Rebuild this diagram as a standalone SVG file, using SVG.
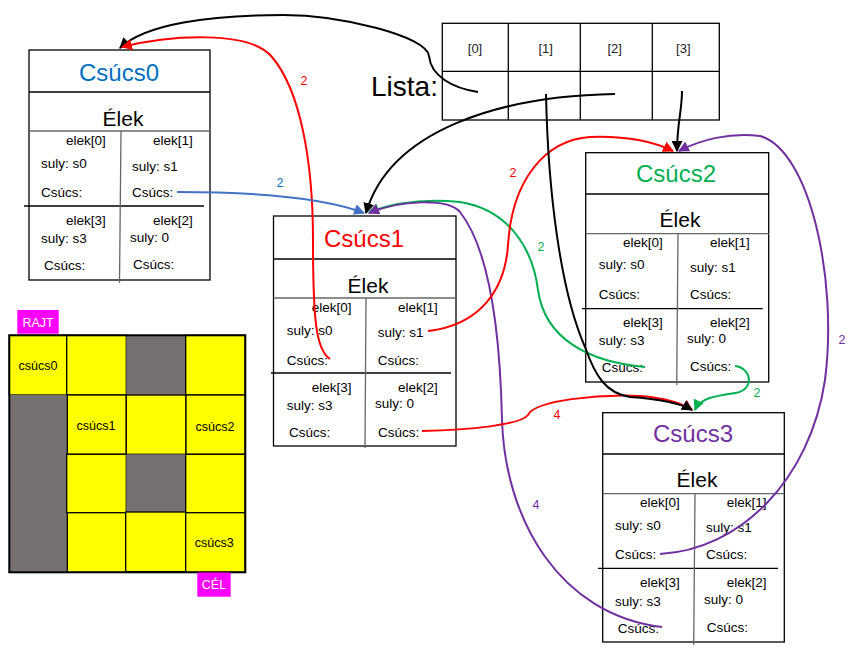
<svg xmlns="http://www.w3.org/2000/svg" width="855" height="653" viewBox="0 0 855 653">
<style>
text{font-family:"Liberation Sans",Arial,sans-serif;}
.box{fill:#fff;stroke:#000;stroke-width:1.3;}
.ln{stroke:#000;stroke-width:1.3;fill:none;}
.vl{stroke:#666;stroke-width:1.3;fill:none;}
.title{font-size:24px;text-anchor:middle;}
.elek{font-size:21px;text-anchor:middle;fill:#000;}
.t{font-size:13.5px;fill:#000;}
.hd{font-size:13px;fill:#222;text-anchor:middle;}
.c{fill:none;stroke-width:2;}
.lbl{font-size:12.5px;text-anchor:middle;}
.yc{fill:#FFFF00;stroke:#000;stroke-width:1.3;}
.gc{fill:#767171;}
.gt{font-size:12.5px;text-anchor:middle;fill:#000;}
.tag{fill:#FF00FF;}
.tagt{font-size:12.5px;fill:#fff;text-anchor:middle;}
</style>
<defs>
<marker id="ak" viewBox="0 0 10 10" refX="9" refY="5" markerWidth="11" markerHeight="11" markerUnits="userSpaceOnUse" orient="auto"><path d="M0,0 L10,5 L0,10 Z" fill="#000"/></marker>
<marker id="ar" viewBox="0 0 10 10" refX="9" refY="5" markerWidth="11" markerHeight="11" markerUnits="userSpaceOnUse" orient="auto"><path d="M0,0 L10,5 L0,10 Z" fill="#FF0000"/></marker>
<marker id="ab" viewBox="0 0 10 10" refX="9" refY="5" markerWidth="11" markerHeight="11" markerUnits="userSpaceOnUse" orient="auto"><path d="M0,0 L10,5 L0,10 Z" fill="#4472C4"/></marker>
<marker id="ag" viewBox="0 0 10 10" refX="9" refY="5" markerWidth="11" markerHeight="11" markerUnits="userSpaceOnUse" orient="auto"><path d="M0,0 L10,5 L0,10 Z" fill="#00B050"/></marker>
<marker id="ap" viewBox="0 0 10 10" refX="9" refY="5" markerWidth="11" markerHeight="11" markerUnits="userSpaceOnUse" orient="auto"><path d="M0,0 L10,5 L0,10 Z" fill="#7030A0"/></marker>
</defs>
<rect width="855" height="653" fill="#fff"/>

<g id="grid">
<rect class="yc" x="9.3" y="335.3" width="57.4" height="59.7"/>
<rect class="yc" x="66.7" y="335.3" width="59.6" height="59.7"/>
<rect class="gc" x="126.3" y="335.3" width="59.4" height="59.7"/>
<rect class="yc" x="185.7" y="335.3" width="59.6" height="59.7"/>
<rect class="gc" x="9.3" y="395" width="58" height="177.3"/>
<rect class="yc" x="67.3" y="395" width="59" height="59.3"/>
<rect class="yc" x="126.3" y="395" width="59.7" height="59.3"/>
<rect class="yc" x="186" y="395" width="59.3" height="59.3"/>
<rect class="yc" x="66.7" y="454.3" width="59.6" height="58.4"/>
<rect class="gc" x="126.3" y="454.3" width="59.4" height="58.4"/>
<rect class="yc" x="185.7" y="454.3" width="59.6" height="58.4"/>
<rect class="yc" x="67.3" y="512.7" width="58.4" height="59.6"/>
<rect class="yc" x="125.7" y="512" width="60" height="59.6"/>
<rect class="yc" x="185.7" y="512.7" width="59.6" height="59.6"/>
<rect x="9.3" y="335.3" width="236" height="237" fill="none" stroke="#000" stroke-width="2"/>
<text class="gt" x="38" y="370">csúcs0</text>
<text class="gt" x="96" y="429.5">csúcs1</text>
<text class="gt" x="215" y="430.5">csúcs2</text>
<text class="gt" x="214.3" y="547">csúcs3</text>
<rect class="tag" x="17.3" y="310" width="41.4" height="23.7"/>
<text class="tagt" x="38" y="326.5">RAJT</text>
<rect class="tag" x="197.3" y="572.5" width="33.4" height="24.2"/>
<text class="tagt" x="214" y="589">CÉL</text>
</g>

<g id="lista">
<rect class="box" x="442.3" y="23.3" width="277" height="96.7"/>
<line class="ln" x1="442.3" y1="71.3" x2="719.3" y2="71.3"/>
<line class="ln" x1="508.3" y1="23.3" x2="508.3" y2="120"/>
<line class="ln" x1="580.3" y1="23.3" x2="580.3" y2="120"/>
<line class="ln" x1="652.3" y1="23.3" x2="652.3" y2="120"/>
<text class="hd" x="475" y="52.5">[0]</text>
<text class="hd" x="545.7" y="52.5">[1]</text>
<text class="hd" x="614.7" y="52.5">[2]</text>
<text class="hd" x="683.3" y="52.5">[3]</text>
<text x="371" y="96" font-size="28" fill="#000">Lista:</text>
</g>

<g id="csucs0">
<rect class="box" x="29" y="50" width="181" height="230"/>
<line class="ln" x1="29" y1="92" x2="210" y2="92"/>
<line class="vl" x1="29" y1="131" x2="210" y2="131"/>
<line class="ln" x1="24" y1="206" x2="204" y2="206"/>
<line class="vl" x1="121" y1="131" x2="119.5" y2="283"/>
<text class="title" x="119" y="81" fill="#0070C0">Csúcs0</text>
<text class="elek" x="123" y="126">Élek</text>
<text class="t" x="66" y="145">elek[0]</text>
<text class="t" x="153" y="145">elek[1]</text>
<text class="t" x="41" y="168">suly: s0</text>
<text class="t" x="132" y="171">suly: s1</text>
<text class="t" x="41" y="197">Csúcs:</text>
<text class="t" x="132" y="197">Csúcs:</text>
<text class="t" x="66" y="225">elek[3]</text>
<text class="t" x="153" y="225">elek[2]</text>
<text class="t" x="41" y="243">suly: s3</text>
<text class="t" x="130" y="242">suly: 0</text>
<text class="t" x="44" y="270">Csúcs:</text>
<text class="t" x="133" y="269">Csúcs:</text>
</g>

<g id="csucs1">
<rect class="box" x="273.5" y="216" width="182.5" height="230"/>
<line class="ln" x1="273.5" y1="259" x2="456" y2="259"/>
<line class="vl" x1="273.5" y1="298" x2="456" y2="298"/>
<line class="ln" x1="271" y1="373" x2="451" y2="373"/>
<line class="vl" x1="366" y1="298" x2="365" y2="448"/>
<text class="title" x="364" y="247" fill="#FF0000">Csúcs1</text>
<text class="elek" x="368" y="293">Élek</text>
<text class="t" x="311.7" y="312">elek[0]</text>
<text class="t" x="398" y="312">elek[1]</text>
<text class="t" x="286.7" y="335">suly: s0</text>
<text class="t" x="377.7" y="336.7">suly: s1</text>
<text class="t" x="286.7" y="365">Csúcs:</text>
<text class="t" x="377.7" y="365">Csúcs:</text>
<text class="t" x="311.7" y="392">elek[3]</text>
<text class="t" x="398" y="392">elek[2]</text>
<text class="t" x="286.7" y="410">suly: s3</text>
<text class="t" x="375" y="408">suly: 0</text>
<text class="t" x="289" y="437">Csúcs:</text>
<text class="t" x="378" y="437">Csúcs:</text>
</g>

<g id="csucs2">
<rect class="box" x="585.7" y="152.7" width="183" height="229.3"/>
<line class="ln" x1="585.7" y1="194" x2="768.7" y2="194"/>
<line class="vl" x1="585.7" y1="233.7" x2="768.7" y2="233.7"/>
<line class="ln" x1="582" y1="308.7" x2="762.7" y2="308.7"/>
<line class="vl" x1="678" y1="233.7" x2="676.7" y2="385"/>
<text class="title" x="676" y="182" fill="#00B050">Csúcs2</text>
<text class="elek" x="680" y="226.7">Élek</text>
<text class="t" x="623" y="247">elek[0]</text>
<text class="t" x="710" y="247">elek[1]</text>
<text class="t" x="598.7" y="269">suly: s0</text>
<text class="t" x="690" y="272">suly: s1</text>
<text class="t" x="598.7" y="299">Csúcs:</text>
<text class="t" x="690" y="299">Csúcs:</text>
<text class="t" x="623" y="326.7">elek[3]</text>
<text class="t" x="710" y="326.7">elek[2]</text>
<text class="t" x="598.7" y="345">suly: s3</text>
<text class="t" x="687" y="343">suly: 0</text>
<text class="t" x="601.7" y="371.7">Csúcs:</text>
<text class="t" x="690" y="371">Csúcs:</text>
</g>

<g id="csucs3">
<rect class="box" x="602.7" y="412.7" width="181.6" height="229.3"/>
<line class="ln" x1="602.7" y1="454" x2="784.3" y2="454"/>
<line class="vl" x1="602.7" y1="493.7" x2="784.3" y2="493.7"/>
<line class="ln" x1="598" y1="568.3" x2="778" y2="568.3"/>
<line class="vl" x1="695" y1="493.7" x2="693.7" y2="645"/>
<text class="title" x="693" y="442" fill="#7030A0">Csúcs3</text>
<text class="elek" x="697" y="487">Élek</text>
<text class="t" x="640" y="507">elek[0]</text>
<text class="t" x="726.7" y="507">elek[1]</text>
<text class="t" x="615" y="530">suly: s0</text>
<text class="t" x="706" y="532">suly: s1</text>
<text class="t" x="615" y="559">Csúcs:</text>
<text class="t" x="706" y="559">Csúcs:</text>
<text class="t" x="640" y="586.7">elek[3]</text>
<text class="t" x="726.7" y="586.7">elek[2]</text>
<text class="t" x="615" y="605.7">suly: s3</text>
<text class="t" x="704" y="603.7">suly: 0</text>
<text class="t" x="617.7" y="632.7">Csúcs:</text>
<text class="t" x="706.7" y="631.7">Csúcs:</text>
</g>

<g id="connectors">
<path class="c" stroke="#000" marker-end="url(#ak)" d="M478 92 C452 88 431 76 429 56 C427 36 340 15 283 15 C210 15 145 24 120 48"/>
<path class="c" stroke="#FF0000" marker-end="url(#ar)" d="M330 359 C316 350 313 320 313 240 C313 160 300 90 272 57 C250 30 170 35 122 47"/>
<path class="c" stroke="#4472C4" marker-end="url(#ab)" d="M177 192 C250 192 320 196 364 213"/>
<path class="c" stroke="#000" marker-end="url(#ak)" d="M615 94 C500 96 390 130 366 213"/>
<path class="c" stroke="#00B050" marker-end="url(#ag)" d="M645 367 C590 362 545 340 538 290 C533 250 510 210 460 202 C420 198 388 205 369 212"/>
<path class="c" stroke="#7030A0" marker-end="url(#ap)" d="M662 627 C560 615 505 520 502 420 C500 330 490 250 460 212 C448 198 400 200 369 213"/>
<path class="c" stroke="#FF0000" marker-end="url(#ar)" d="M428 331 C480 325 505 290 508 245 C512 180 545 140 590 137 C620 136 650 140 673 151"/>
<path class="c" stroke="#000" marker-end="url(#ak)" d="M682 91 C682 110 677 125 677 151"/>
<path class="c" stroke="#7030A0" marker-end="url(#ap)" d="M660 554 C740 550 810 480 825 380 C838 280 810 150 760 136 C730 132 700 140 679 151"/>
<path class="c" stroke="#FF0000" marker-end="url(#ar)" d="M422 431 C470 430 520 425 528 415 C535 400 600 394 640 396 C665 398 680 402 692 410"/>
<path class="c" stroke="#000" marker-end="url(#ak)" d="M546 94 C548 190 560 290 585 347 C595 375 605 393 630 397 C660 399 680 403 692 410"/>
<path class="c" stroke="#00B050" marker-end="url(#ag)" d="M735 366 C752 368 755 390 735 393 C715 396 700 398 695 410"/>
<text class="lbl" x="304" y="85" fill="#FF0000">2</text>
<text class="lbl" x="280" y="187" fill="#0070C0">2</text>
<text class="lbl" x="513" y="177" fill="#FF0000">2</text>
<text class="lbl" x="541" y="251" fill="#00B050">2</text>
<text class="lbl" x="557" y="419" fill="#FF0000">4</text>
<text class="lbl" x="536" y="509" fill="#7030A0">4</text>
<text class="lbl" x="757" y="397" fill="#00B050">2</text>
<text class="lbl" x="842" y="344" fill="#7030A0">2</text>
</g>
</svg>
